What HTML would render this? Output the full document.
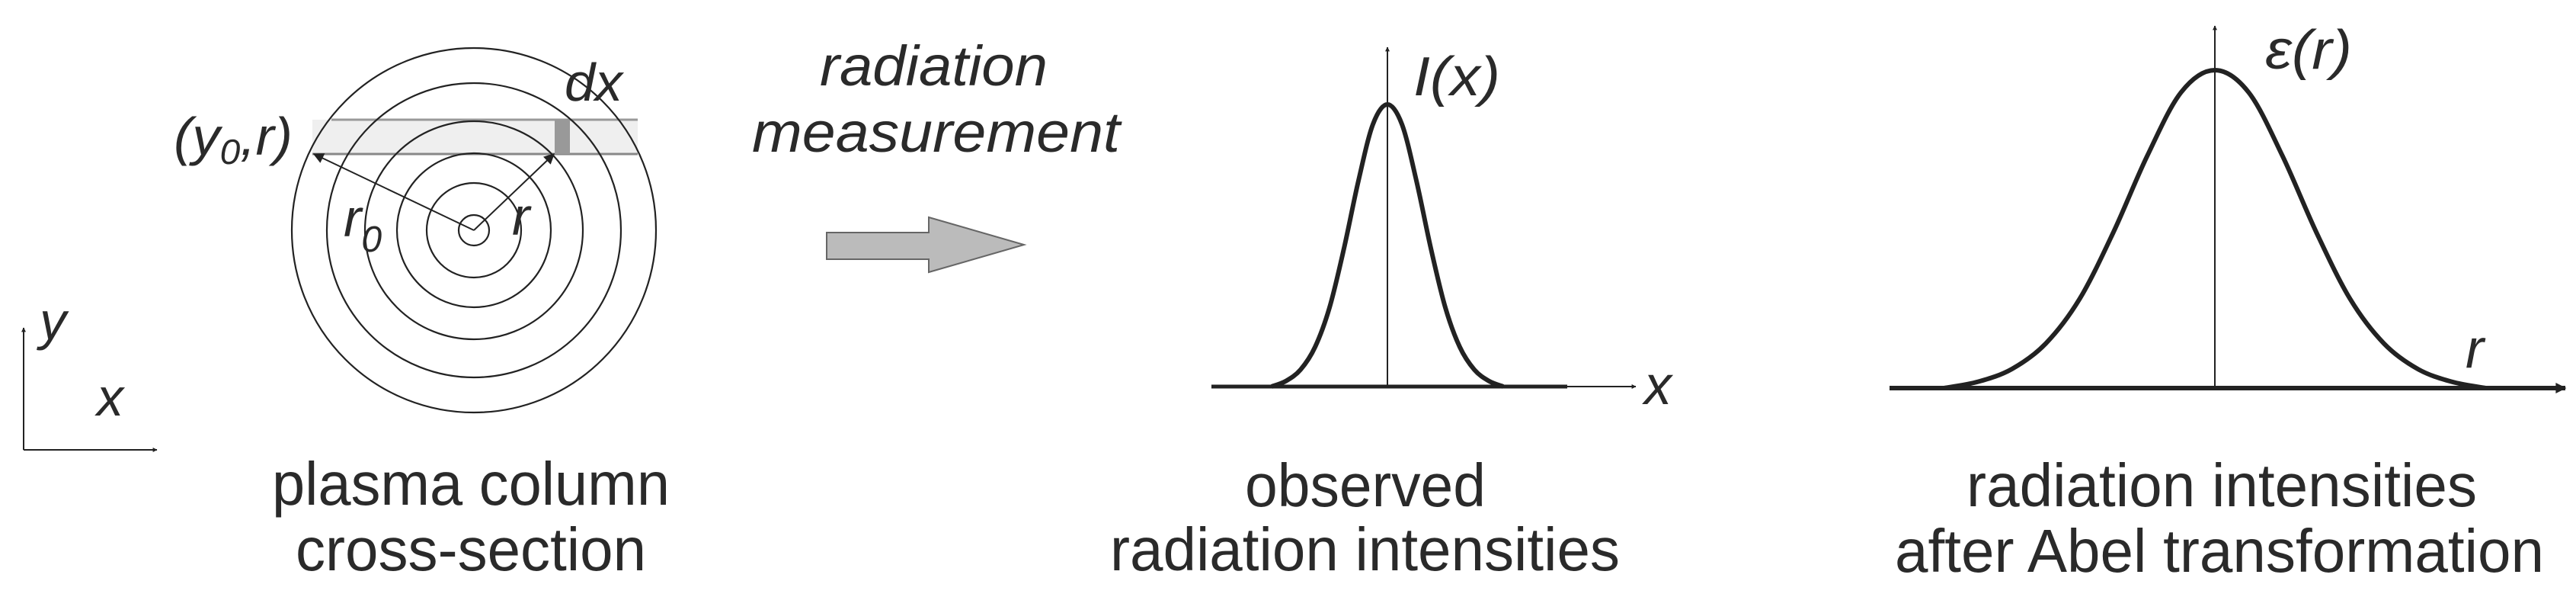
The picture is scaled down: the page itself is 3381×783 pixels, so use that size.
<!DOCTYPE html>
<html><head><meta charset="utf-8"><style>
html,body{margin:0;padding:0;background:#fff}
svg{display:block}
text{font-family:"Liberation Sans",sans-serif;fill:#2a2a2a}
</style></head><body>
<svg width="3381" height="783" viewBox="0 0 3381 783">
<defs>
<marker id="ah" viewBox="0 0 10 10" refX="9" refY="5" markerWidth="6" markerHeight="6" orient="auto" markerUnits="userSpaceOnUse"><path d="M0,0 L10,5 L0,10 z" fill="#222"/></marker>
<marker id="ah2" viewBox="0 0 10 10" refX="9" refY="5" markerWidth="18" markerHeight="14" orient="auto" markerUnits="userSpaceOnUse"><path d="M0,0 L10,5 L0,10 z" fill="#222"/></marker>
</defs>
<g>
<rect x="410" y="157" width="427" height="45" fill="#efefef"/>
<line x1="435" y1="157" x2="837" y2="157" stroke="#999" stroke-width="3"/>
<line x1="410" y1="202" x2="837" y2="202" stroke="#888" stroke-width="3"/>
<rect x="728" y="157" width="20" height="45" fill="#999"/>
<g fill="none" stroke="#222" stroke-width="2.2">
<circle cx="622" cy="302" r="239"/><circle cx="622" cy="302" r="193"/><circle cx="622" cy="302" r="143"/>
<circle cx="622" cy="302" r="101"/><circle cx="622" cy="302" r="62"/><circle cx="622" cy="302" r="20"/>
</g>
<line x1="622" y1="302" x2="412" y2="202" stroke="#222" stroke-width="2" marker-end="url(#ah2)"/>
<line x1="622" y1="302" x2="727" y2="202" stroke="#222" stroke-width="2" marker-end="url(#ah2)"/>
<text x="228" y="203" font-size="70" font-style="italic" textLength="156" lengthAdjust="spacingAndGlyphs">(y<tspan font-size="46" dy="12">0</tspan><tspan dy="-12">,r)</tspan></text>
<text x="741" y="132" font-size="70" font-style="italic" textLength="76" lengthAdjust="spacingAndGlyphs">dx</text>
<text x="451" y="310" font-size="70" font-style="italic">r<tspan font-size="48" dy="20">0</tspan></text>
<text x="672" y="308" font-size="70" font-style="italic">r</text>
</g>
<g>
<line x1="31" y1="590" x2="31" y2="430" stroke="#222" stroke-width="2" marker-end="url(#ah)"/>
<line x1="31" y1="590" x2="206" y2="590" stroke="#222" stroke-width="2" marker-end="url(#ah)"/>
<text x="52" y="445" font-size="70" font-style="italic">y</text>
<text x="127" y="545" font-size="70" font-style="italic">x</text>
</g>
<text x="357" y="662" font-size="80" textLength="522" lengthAdjust="spacingAndGlyphs">plasma column</text>
<text x="388" y="748" font-size="80" textLength="460" lengthAdjust="spacingAndGlyphs">cross-section</text>
<text x="1076" y="112" font-size="74" font-style="italic" textLength="299" lengthAdjust="spacingAndGlyphs">radiation</text>
<text x="987" y="199" font-size="74" font-style="italic" textLength="483" lengthAdjust="spacingAndGlyphs">measurement</text>
<path d="M1085,305 L1219,305 L1219,285 L1344,321 L1219,357 L1219,340 L1085,340 Z" fill="#bbb" stroke="#666" stroke-width="2"/>
<g id="plot1">
<line x1="1821" y1="507" x2="1821" y2="62" stroke="#222" stroke-width="2" marker-end="url(#ah)"/>
<line x1="1590" y1="507" x2="2147" y2="507" stroke="#222" stroke-width="2" marker-end="url(#ah)"/>
<line x1="1590" y1="507" x2="2057" y2="507" stroke="#222" stroke-width="5"/>
<text x="1855" y="125" font-size="72" font-style="italic" textLength="114" lengthAdjust="spacingAndGlyphs">I(x)</text>
<text x="2158" y="530" font-size="72" font-style="italic">x</text>
</g>
<g id="plot2">
<line x1="2907" y1="509" x2="2907" y2="34" stroke="#222" stroke-width="2" marker-end="url(#ah)"/>
<line x1="2480" y1="509" x2="3367" y2="509" stroke="#222" stroke-width="6" marker-end="url(#ah2)"/>
<text x="2973" y="90" font-size="72" font-style="italic" textLength="114" lengthAdjust="spacingAndGlyphs">ε(r)</text>
<text x="3236" y="482" font-size="72" font-style="italic">r</text>
</g>
<text x="1634" y="664" font-size="80" textLength="316" lengthAdjust="spacingAndGlyphs">observed</text>
<text x="1457" y="748" font-size="80" textLength="669" lengthAdjust="spacingAndGlyphs">radiation intensities</text>
<text x="2581" y="664" font-size="80" textLength="670" lengthAdjust="spacingAndGlyphs">radiation intensities</text>
<text x="2487" y="750" font-size="80" textLength="852" lengthAdjust="spacingAndGlyphs">after Abel transformation</text>
</svg>
<script>
// sample positions (in profile-width units) and read profile heights (normalized)
const samplePos = [-3.2,-2.8,-2.4,-2,-1.6,-1.2,-0.8,-0.4,0,0.4,0.8,1.2,1.6,2,2.4,2.8,3.2];
const observedI = [0,0.02,0.06,0.14,0.28,0.49,0.73,0.93,1,0.93,0.73,0.49,0.28,0.14,0.06,0.02,0];
const abelEps   = [0,0.02,0.06,0.14,0.28,0.49,0.73,0.93,1,0.93,0.73,0.49,0.28,0.14,0.06,0.02,0];
function smoothPath(pts){
  let d='M'+pts[0][0]+','+pts[0][1];
  for(let i=0;i<pts.length-1;i++){
    const p0=pts[Math.max(i-1,0)],p1=pts[i],p2=pts[i+1],p3=pts[Math.min(i+2,pts.length-1)];
    const c1=[p1[0]+(p2[0]-p0[0])/6,p1[1]+(p2[1]-p0[1])/6];
    const c2=[p2[0]-(p3[0]-p1[0])/6,p2[1]-(p3[1]-p1[1])/6];
    d+=' C'+c1+' '+c2+' '+p2;
  }
  return d;
}
function draw(gid,vals,cx,unit,base,h,name){
  const xs=v=>cx+v*unit, ys=v=>base-v*h;
  const pts=samplePos.map((p,i)=>[xs(p),ys(vals[i])]);
  const el=document.createElementNS('http://www.w3.org/2000/svg','path');
  el.setAttribute('d',smoothPath(pts));
  el.setAttribute('fill','none');el.setAttribute('stroke','#222');el.setAttribute('stroke-width','6');
  
  
  document.getElementById(gid).appendChild(el);
}
draw('plot1',observedI,1821,47.5,507,370,'observed-intensity-curve');
draw('plot2',abelEps,2907,111,509,417,'abel-emissivity-curve');
</script>
</body></html>
